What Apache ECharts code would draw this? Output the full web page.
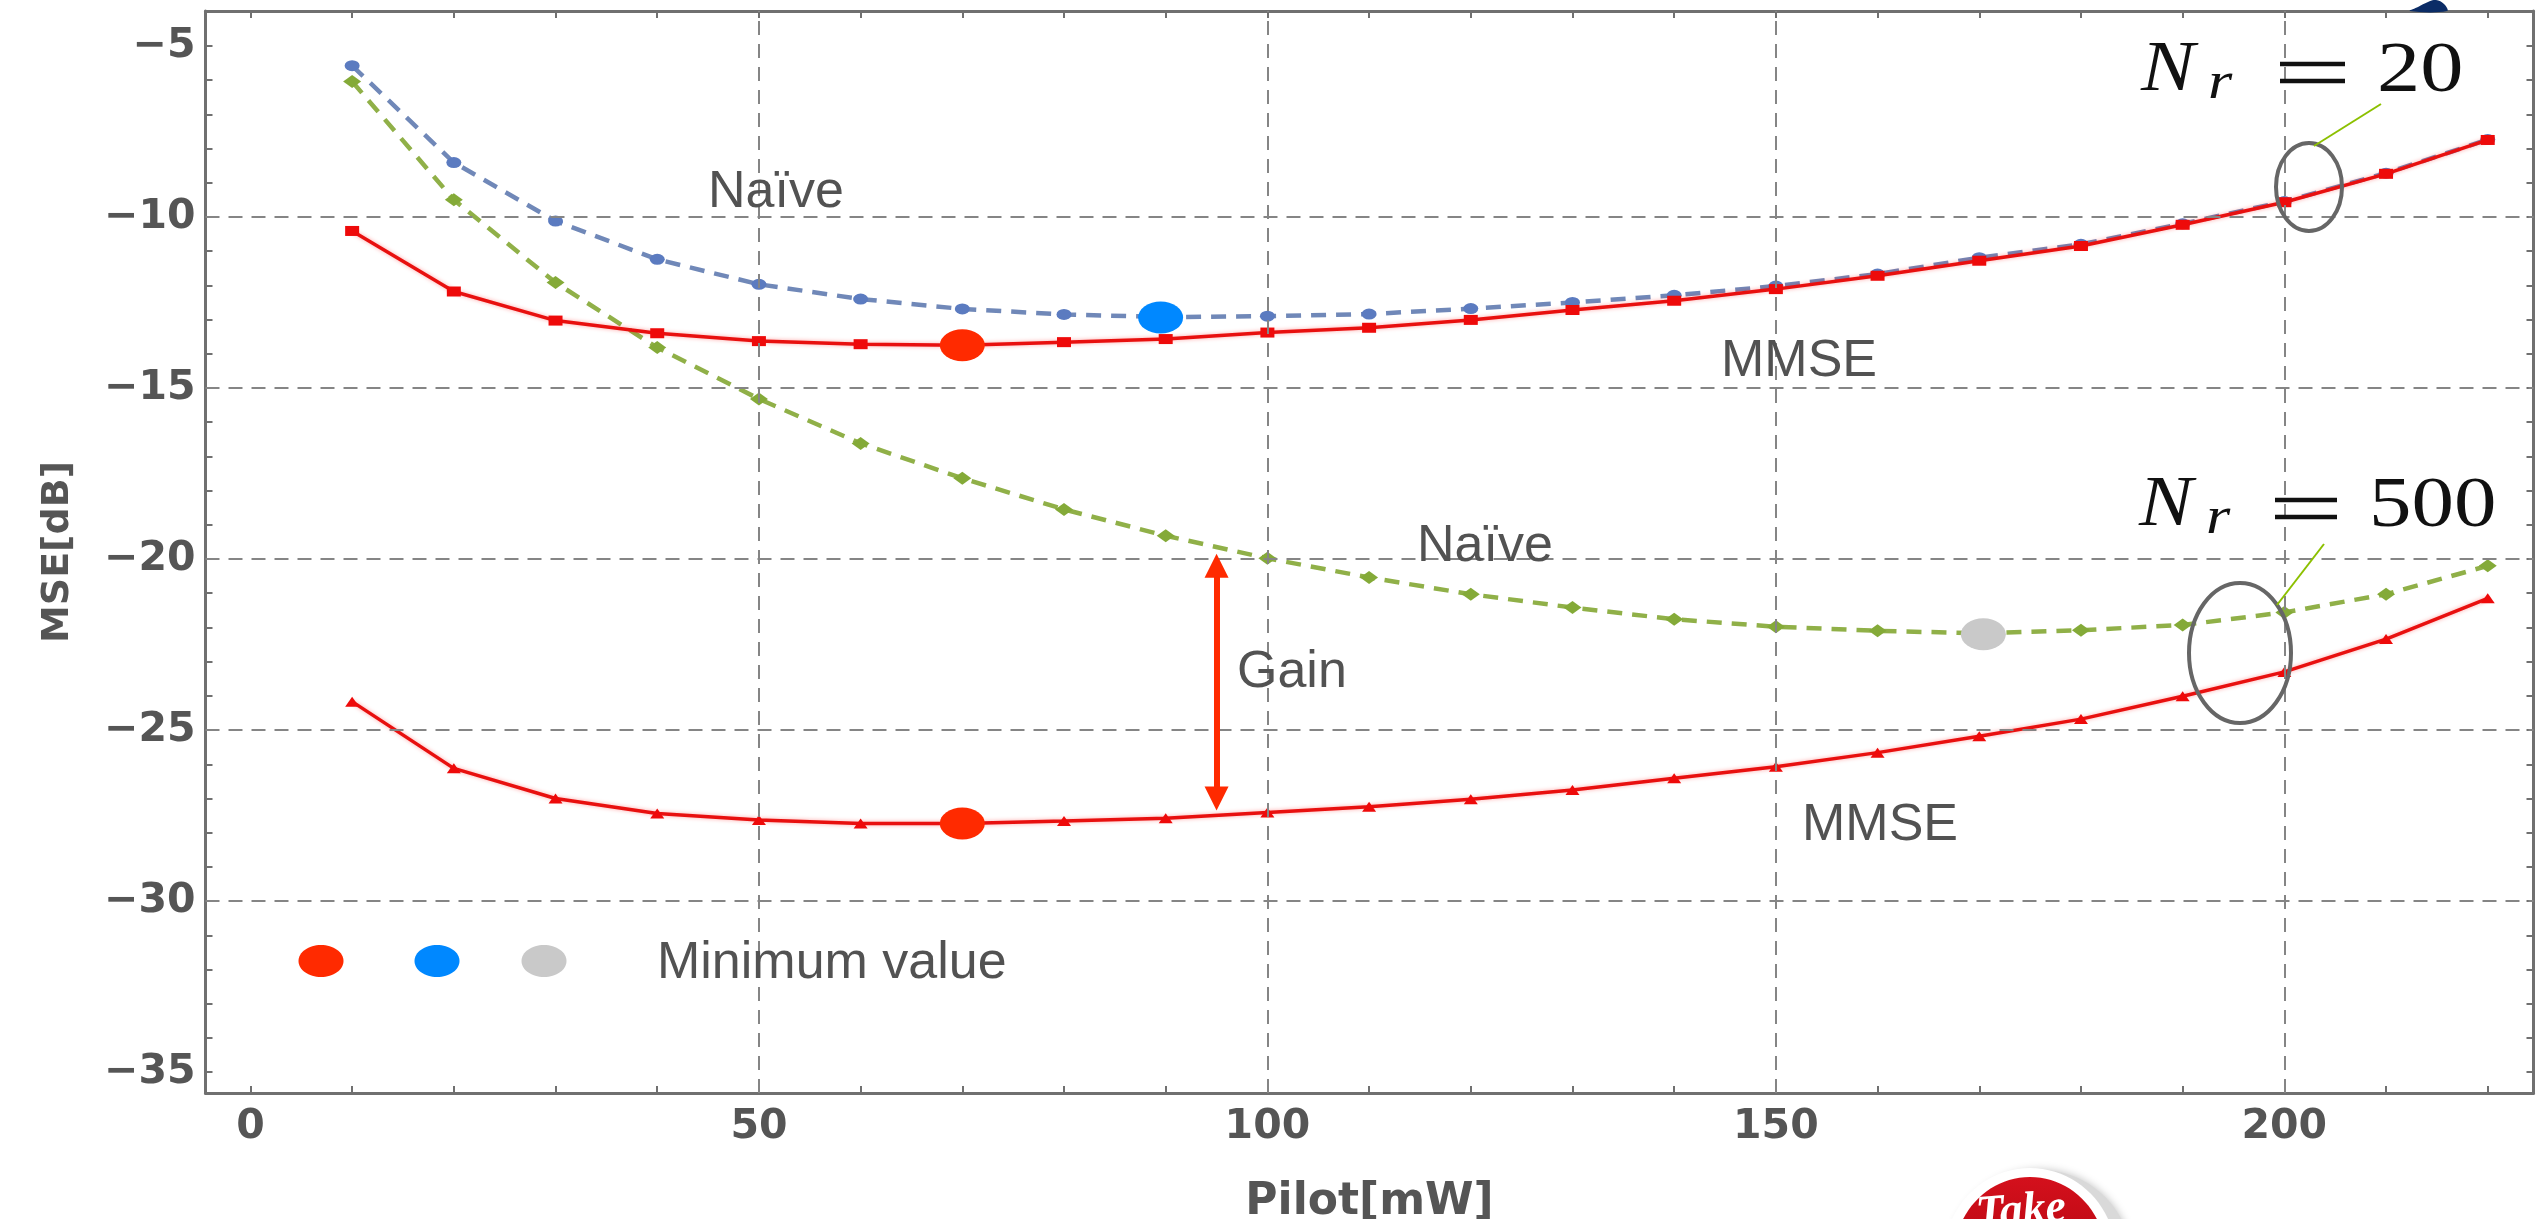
<!DOCTYPE html>
<html>
<head>
<meta charset="utf-8">
<title>MSE vs pilot power</title>
<script src="https://cdn.jsdelivr.net/npm/echarts@6/dist/echarts.min.js"></script>
<style>
  html, body { margin: 0; padding: 0; background: #ffffff; }
  #chart { width: 2539px; height: 1219px; }
</style>
</head>
<body>
<div id="chart"></div>
<script>
// ---- data -------------------------------------------------------------
const pilot = [10, 20, 30, 40, 50, 60, 70, 80, 90, 100, 110, 120, 130, 140, 150, 160, 170, 180, 190, 200, 210, 220];

// N_r = 20
const mmse20  = [-10.41, -12.18, -13.03, -13.40, -13.63, -13.72, -13.75, -13.66, -13.57, -13.38, -13.24,
                 -13.01, -12.72, -12.45, -12.11, -11.72, -11.28, -10.85, -10.23, -9.57, -8.74, -7.75];
const naive20 = [-5.58, -8.41, -10.12, -11.24, -11.97, -12.40, -12.69, -12.85, -12.93, -12.90, -12.84,
                 -12.68, -12.50, -12.29, -12.02, -11.67, -11.19, -10.80, -10.20, -9.55, -8.72, -7.74];

// N_r = 500
const naive500 = [-6.04, -9.50, -11.92, -13.82, -15.32, -16.62, -17.64, -18.55, -19.32, -19.98, -20.54,
                  -21.03, -21.42, -21.76, -21.98, -22.10, -22.17, -22.08, -21.93, -21.56, -21.03, -20.20];
const mmse500  = [-24.17, -26.12, -27.00, -27.44, -27.63, -27.73, -27.73, -27.66, -27.58, -27.41, -27.24,
                  -27.02, -26.75, -26.41, -26.07, -25.66, -25.18, -24.68, -24.01, -23.30, -22.34, -21.15];

// minimum points of each curve (MMSE N=20, Naive N=20, Naive N=500, MMSE N=500)
const minPilot = [70, 89.5, 170.4, 70];
const minMse   = [-13.75, -12.94, -22.20, -27.73];

// gain between the Naive and MMSE curves for N_r = 500
const gainPilot = 95;
const gainRange = [-20.2, -27.0];

// axes
const xLabels = [0, 50, 100, 150, 200];
const yLabels = [-35, -30, -25, -20, -15, -10, -5];
const gridX = [50, 100, 150, 200];
const gridY = [-30, -25, -20, -15, -10];
const X_MIN = -4.42, X_MAX = 224.5;
const Y_MIN = -35.61, Y_MAX = -3.98;

const xTicks = [];
for (let v = 0; v <= 220; v += 10) xTicks.push(v);
const yTicks = [];
for (let v = -35; v <= -5; v += 1) yTicks.push(v);

// ---- styles -----------------------------------------------------------
const FRAME = '#707070';
const LABEL = '#555555';
const NOTE = '#525252';
const ELLIPSE = 'path://M0,1 A1,1 0 1,0 2,1 A1,1 0 1,0 0,1 Z';
const minColors = ['#ff2a00', '#0088ff', '#c9c9c9', '#ff2a00'];

const pts = ys => pilot.map((x, i) => [x, ys[i]]);
const minus = v => (v < 0 ? '\u2212' + Math.abs(v) : String(v));

const tickStyle = (values) => ({
  show: true, inside: true, length: 7, customValues: values,
  lineStyle: { color: FRAME, width: 2 }
});
const frameLine = { show: true, onZero: false, lineStyle: { color: FRAME, width: 3 } };
const tickFont = { fontFamily: 'DejaVu Sans', fontWeight: 'bold', fontSize: 41, color: LABEL };

const redShadow = { shadowColor: 'rgba(255,0,0,0.35)', shadowBlur: 4 };

const serif = '"Liberation Serif", "DejaVu Serif", serif';
const noteFont = '52px "Liberation Sans", Arial, sans-serif';

const chart = echarts.init(document.getElementById('chart'), null, { renderer: 'canvas' });

const option = {
  animation: false,
  backgroundColor: '#ffffff',
  grid: { left: 205.5, right: 5.5, top: 11, bottom: 126, containLabel: false, outerBoundsMode: 'none' },
  xAxis: [
    {
      type: 'value', position: 'bottom', min: X_MIN, max: X_MAX,
      axisLine: frameLine, axisTick: tickStyle(xTicks),
      axisLabel: Object.assign({ customValues: xLabels, margin: 14, formatter: minus }, tickFont),
      splitLine: { show: false },
      name: 'Pilot[mW]', nameLocation: 'middle', nameGap: 88,
      nameTextStyle: { fontFamily: 'DejaVu Sans', fontWeight: 'bold', fontSize: 44, color: LABEL }
    },
    {
      type: 'value', position: 'top', min: X_MIN, max: X_MAX,
      axisLine: frameLine, axisTick: tickStyle(xTicks),
      axisLabel: { show: false }, splitLine: { show: false }
    }
  ],
  yAxis: [
    {
      type: 'value', position: 'left', min: Y_MIN, max: Y_MAX,
      axisLine: frameLine, axisTick: tickStyle(yTicks),
      axisLabel: Object.assign({ customValues: yLabels, margin: 10, formatter: minus }, tickFont),
      splitLine: { show: false },
      name: 'MSE[dB]', nameLocation: 'middle', nameGap: 128, nameRotate: 90,
      nameTextStyle: { fontFamily: 'DejaVu Sans', fontWeight: 'bold', fontSize: 38, color: LABEL }
    },
    {
      type: 'value', position: 'right', min: Y_MIN, max: Y_MAX,
      axisLine: frameLine, axisTick: tickStyle(yTicks),
      axisLabel: { show: false }, splitLine: { show: false }
    }
  ],
  series: [
    {
      // dashed grid lines
      type: 'line', data: [], silent: true, z: 1,
      markLine: {
        silent: true, animation: false, symbol: ['none', 'none'], label: { show: false },
        lineStyle: { color: '#858585', width: 2, type: [14, 9] },
        emphasis: { disabled: true },
        data: gridX.map(v => ({ xAxis: v })).concat(gridY.map(v => ({ yAxis: v })))
      }
    },
    {
      name: 'Naive, N_r = 20', type: 'line', data: pts(naive20), z: 3,
      symbol: ELLIPSE, symbolSize: [15, 11], showAllSymbol: true,
      lineStyle: { color: '#7088b8', width: 4.5, type: [15, 10] },
      itemStyle: { color: '#5b7bc0' }
    },
    {
      name: 'MMSE, N_r = 20', type: 'line', data: pts(mmse20), z: 4,
      symbol: 'rect', symbolSize: [14, 10], showAllSymbol: true,
      lineStyle: Object.assign({ color: '#e8100f', width: 3.5 }, redShadow),
      itemStyle: { color: '#ee0a0a' }
    },
    {
      name: 'Naive, N_r = 500', type: 'line', data: pts(naive500), z: 3,
      symbol: 'diamond', symbolSize: [18, 13], showAllSymbol: true,
      lineStyle: { color: '#90b048', width: 4.5, type: [15, 10] },
      itemStyle: { color: '#84aa38' }
    },
    {
      name: 'MMSE, N_r = 500', type: 'line', data: pts(mmse500), z: 4,
      symbol: 'triangle', symbolSize: [14, 10], showAllSymbol: true,
      lineStyle: Object.assign({ color: '#e8100f', width: 3.5 }, redShadow),
      itemStyle: { color: '#ee0a0a' }
    },
    {
      name: 'Minimum value', type: 'scatter', z: 6,
      symbol: ELLIPSE, symbolSize: [45, 32],
      itemStyle: { opacity: 1 },
      data: minPilot.map((x, i) => ({ value: [x, minMse[i]], itemStyle: { color: minColors[i], opacity: 1 } }))
    },
    {
      // gain arrow
      type: 'line', data: [], silent: true, z: 5,
      markLine: {
        silent: true, animation: false, symbol: ['triangle', 'triangle'], symbolSize: [24, 24],
        label: { show: false }, emphasis: { disabled: true },
        lineStyle: { color: '#ff2a00', width: 6, type: 'solid' },
        itemStyle: { color: '#ff2a00' },
        data: [[{ coord: [gainPilot, gainRange[0]] }, { coord: [gainPilot, gainRange[1]] }]]
      }
    }
  ],
  graphic: [
    // curve annotations
    { type: 'text', x: 708,  y: 193, z: 10, style: { text: 'Naïve', font: noteFont, fill: NOTE, verticalAlign: 'middle' } },
    { type: 'text', x: 1721, y: 362, z: 10, style: { text: 'MMSE', font: noteFont, fill: NOTE, verticalAlign: 'middle' } },
    { type: 'text', x: 1417, y: 547, z: 10, style: { text: 'Naïve', font: noteFont, fill: NOTE, verticalAlign: 'middle' } },
    { type: 'text', x: 1237, y: 673, z: 10, style: { text: 'Gain', font: noteFont, fill: NOTE, verticalAlign: 'middle' } },
    { type: 'text', x: 1802, y: 826, z: 10, style: { text: 'MMSE', font: noteFont, fill: NOTE, verticalAlign: 'middle' } },
    { type: 'text', x: 657,  y: 964, z: 10, style: { text: 'Minimum value', font: noteFont, fill: NOTE, verticalAlign: 'middle' } },

    // minimum-value key
    { type: 'ellipse', z: 10, shape: { cx: 321, cy: 961, rx: 22.5, ry: 16 }, style: { fill: '#ff2a00' } },
    { type: 'ellipse', z: 10, shape: { cx: 437, cy: 961, rx: 22.5, ry: 16 }, style: { fill: '#0088ff' } },
    { type: 'ellipse', z: 10, shape: { cx: 544, cy: 961, rx: 22.5, ry: 16 }, style: { fill: '#c9c9c9' } },

    // N_r = 20 callout
    { type: 'ellipse', z: 10, shape: { cx: 2309, cy: 187, rx: 33, ry: 44 }, style: { fill: 'none', stroke: '#666666', lineWidth: 4 } },
    { type: 'line', z: 10, shape: { x1: 2381, y1: 104, x2: 2314, y2: 146 }, style: { stroke: '#8cc000', lineWidth: 2 } },
    { type: 'text', x: 2141, y: 107, z: 10, scaleX: 1.12, style: { text: 'N', font: 'italic 72px ' + serif, fill: '#111', verticalAlign: 'bottom' } },
    { type: 'text', x: 2208, y: 110, z: 10, scaleX: 1.2, style: { text: 'r', font: 'italic 52px ' + serif, fill: '#111', verticalAlign: 'bottom' } },
    { type: 'line', z: 10, shape: { x1: 2280, y1: 64, x2: 2345, y2: 64 }, style: { stroke: '#111', lineWidth: 4.5 } },
    { type: 'line', z: 10, shape: { x1: 2280, y1: 81, x2: 2345, y2: 81 }, style: { stroke: '#111', lineWidth: 4.5 } },
    { type: 'text', x: 2377, y: 108, z: 10, scaleX: 1.2, style: { text: '20', font: '72px ' + serif, fill: '#111', verticalAlign: 'bottom' } },

    // N_r = 500 callout
    { type: 'ellipse', z: 10, shape: { cx: 2240, cy: 653, rx: 51, ry: 70 }, style: { fill: 'none', stroke: '#666666', lineWidth: 4 } },
    { type: 'line', z: 10, shape: { x1: 2324, y1: 544, x2: 2277, y2: 605 }, style: { stroke: '#8cc000', lineWidth: 2 } },
    { type: 'text', x: 2139, y: 542, z: 10, scaleX: 1.12, style: { text: 'N', font: 'italic 72px ' + serif, fill: '#111', verticalAlign: 'bottom' } },
    { type: 'text', x: 2206, y: 545, z: 10, scaleX: 1.2, style: { text: 'r', font: 'italic 52px ' + serif, fill: '#111', verticalAlign: 'bottom' } },
    { type: 'line', z: 10, shape: { x1: 2275, y1: 500, x2: 2337, y2: 500 }, style: { stroke: '#111', lineWidth: 4.5 } },
    { type: 'line', z: 10, shape: { x1: 2275, y1: 517, x2: 2337, y2: 517 }, style: { stroke: '#111', lineWidth: 4.5 } },
    { type: 'text', x: 2369, y: 543, z: 10, scaleX: 1.18, style: { text: '500', font: '72px ' + serif, fill: '#111', verticalAlign: 'bottom' } },

    // small badge at the top-right corner
    { type: 'polygon', z: 10, shape: { points: [[2410, 11], [2418, 7], [2428, 2], [2436, 0], [2444, 4], [2447, 11]], smooth: 0.4 }, style: { fill: '#0b2c66' } },

    // round badge at the bottom
    { type: 'ellipse', z: 10, shape: { cx: 2040, cy: 1262, rx: 92, ry: 92 }, style: { fill: '#d9d9d9', shadowBlur: 8, shadowColor: 'rgba(0,0,0,0.25)' } },
    { type: 'ellipse', z: 11, shape: { cx: 2030, cy: 1256, rx: 86, ry: 88 }, style: { fill: '#ffffff' } },
    { type: 'ellipse', z: 12, shape: { cx: 2030, cy: 1257, rx: 76, ry: 80 },
      style: { fill: new echarts.graphic.LinearGradient(0, 0, 0, 1, [{ offset: 0, color: '#d4101c' }, { offset: 1, color: '#9c0008' }]) } },
    { type: 'text', x: 2021, y: 1212, z: 13, rotation: 0.08, style: { text: 'Take', font: 'italic bold 46px "Liberation Serif", serif', fill: '#ffffff', align: 'center', verticalAlign: 'middle' } }
  ]
};

chart.setOption(option);
</script>
</body>
</html>
